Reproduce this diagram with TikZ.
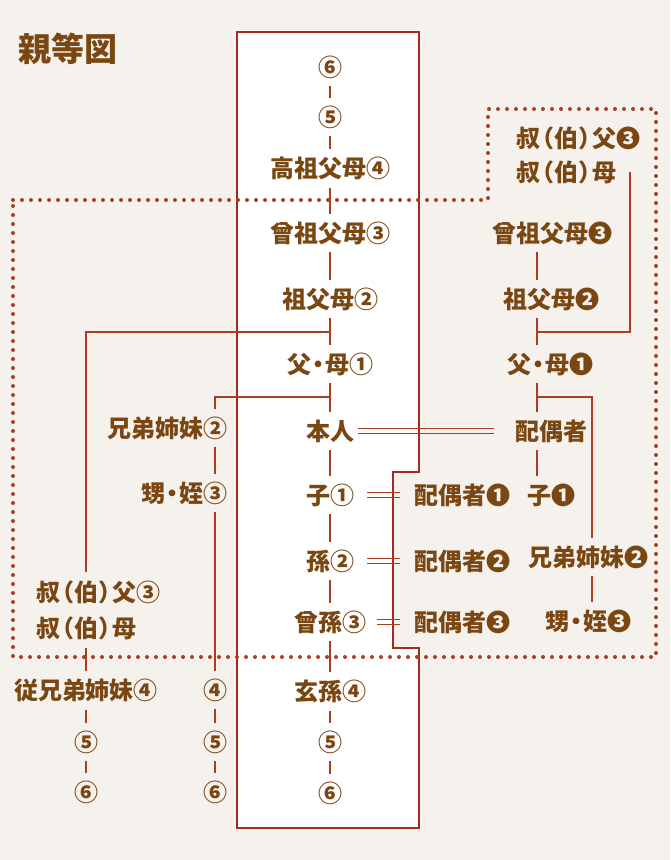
\documentclass[tikz,border=0pt]{standalone}
\usepackage{fontspec}
\setmainfont{Noto Sans CJK JP}
\definecolor{bgc}{HTML}{F5F2EE}
\definecolor{boxc}{HTML}{A02C1C}
\definecolor{conc}{HTML}{A93E22}
\definecolor{dotc}{HTML}{A9401F}
\definecolor{txt}{HTML}{7A4612}
\newcommand\lfont{\bfseries\fontsize{24}{28}\selectfont}
\newcommand\tfont{\bfseries\fontsize{33}{38}\selectfont}
\newcommand\dt{\kern-5pt・\kern-5pt}
\newcommand\lp{\kern-10pt（}
\newcommand\rp{）\kern-10pt}
\begin{document}
\begin{tikzpicture}[x=1pt,y=-1pt,
  lab/.style={text=txt,font=\lfont,inner sep=0pt,outer xsep=0pt,outer ysep=8pt},
  conn/.style={draw=conc,line width=1.7pt},
  dbl/.style={draw=conc,line width=1.6pt}]
\useasboundingbox (0,0) rectangle (670,860);
\fill[bgc] (0,0) rectangle (670,860);
% lineal box
\draw[draw=boxc,line width=2.8pt,fill=white] (237,32) -- (419,32) -- (419,472) -- (393,472) -- (393,648) -- (419,648) -- (419,828) -- (237,828) -- cycle;
% dotted boundary
\draw[draw=dotc,line width=4pt,line cap=round,dash pattern=on 0pt off 9pt] (13,200) -- (488,200) -- (488,109) -- (656,109) -- (656,657) -- (13,657) -- cycle;

% title
\node[lab,font=\tfont] (title) at (68,49) {親等図};

% main column
\node[lab] (m6a) at (330,67) {⑥};
\node[lab] (m5a) at (330,117) {⑤};
\node[lab] (m4) at (330,168) {高祖父母④};
\node[lab] (m3) at (330,233) {曾祖父母③};
\node[lab] (m2) at (330,299) {祖父母②};
\node[lab] (m1) at (330,364) {父\dt 母①};
\node[lab] (me) at (330,431) {本人};
\node[lab] (c1) at (330,495) {子①};
\node[lab] (c2) at (330,561) {孫②};
\node[lab] (c3) at (330,622) {曾孫③};
\node[lab] (c4) at (330,691) {玄孫④};
\node[lab] (c5) at (330,742) {⑤};
\node[lab] (c6) at (330,793) {⑥};

% spouses of descendants
\node[lab] (s1) at (462,495) {配偶者❶};
\node[lab] (s2) at (462,561) {配偶者❷};
\node[lab] (s3) at (462,622) {配偶者❸};

% right column (spouse side)
\node[lab,anchor=west] (ru1) at (516,138) {叔\lp 伯\rp 父❸};
\node[lab,anchor=west] (ru2) at (516,172) {叔\lp 伯\rp 母};
\node[lab] (r3) at (552,233) {曾祖父母❸};
\node[lab] (r2) at (551,299) {祖父母❷};
\node[lab] (r1) at (550,364) {父\dt 母❶};
\node[lab] (sp) at (551,431) {配偶者};
\node[lab] (rc1) at (551,495) {子❶};
\node[lab] (rs) at (588,557) {兄弟姉妹❷};
\node[lab] (rn) at (588,621) {甥\dt 姪❸};

% left side
\node[lab,anchor=east] (ls) at (227,428) {兄弟姉妹②};
\node[lab,anchor=east] (ln) at (227,493) {甥\dt 姪③};
\node[lab] (l4) at (215,690) {④};
\node[lab] (l5) at (215,742) {⑤};
\node[lab] (l6) at (215,792) {⑥};
\node[lab,anchor=west] (lu1) at (36,592) {叔\lp 伯\rp 父③};
\node[lab,anchor=west] (lu2) at (36,628) {叔\lp 伯\rp 母};
\node[lab] (lc) at (86,690) {従兄弟姉妹④};
\node[lab] (lc5) at (86,742) {⑤};
\node[lab] (lc6) at (86,792) {⑥};

% junctions and guide columns
\coordinate (j1) at (330,332);
\coordinate (j2) at (330,397);
\coordinate (j3) at (537,332);
\coordinate (j4) at (537,397);
\coordinate (lx1) at (86,0);
\coordinate (lx2) at (215,0);
\coordinate (rx) at (537,0);
\coordinate (rsx) at (592,0);

% main chain
\foreach \a/\b in {m6a/m5a,m5a/m4,m4/m3,m3/m2,m2/m1,m1/me,me/c1,c1/c2,c2/c3,c3/c4,c4/c5,c5/c6}
  \draw[conn] (\a.south) -- (\b.north);
% left branches
\draw[conn] (j1) -| (lx1 |- lu1.north);
\draw[conn] (j2) -| (lx2 |- ls.north);
\draw[conn] (ls.south -| lx2) -- (ln.north -| lx2);
\draw[conn] (ln.south -| lx2) -- (l4.north);
\draw[conn] (l4.south) -- (l5.north);
\draw[conn] (l5.south) -- (l6.north);
\draw[conn] (lu2.south -| lx1) -- (lc.north);
\draw[conn] (lc.south) -- (lc5.north);
\draw[conn] (lc5.south) -- (lc6.north);
% right column
\foreach \a/\b in {r3/r2,r2/r1,r1/sp,sp/rc1}
  \draw[conn] (\a.south -| rx) -- (\b.north -| rx);
\draw[conn] ([xshift=14pt]ru2.east) |- (j3);
\draw[conn] (j4) -| (rsx |- rs.north);
\draw[conn] (rs.south -| rsx) -- (rn.north -| rsx);
% marriages
\foreach \s in {-2.6,2.6}{
  \draw[dbl,shorten <=4pt,shorten >=21pt] ([yshift=\s pt]me.east) -- ([yshift=\s pt]me.east -| sp.west);
  \draw[dbl,shorten <=13pt,shorten >=14pt] ([yshift=\s pt]c1.east) -- ([yshift=\s pt]c1.east -| s1.west);
  \draw[dbl,shorten <=13pt,shorten >=14pt] ([yshift=\s pt]c2.east) -- ([yshift=\s pt]c2.east -| s2.west);
  \draw[dbl,shorten <=11pt,shorten >=14pt] ([yshift=\s pt]c3.east) -- ([yshift=\s pt]c3.east -| s3.west);
}
\end{tikzpicture}
\end{document}
